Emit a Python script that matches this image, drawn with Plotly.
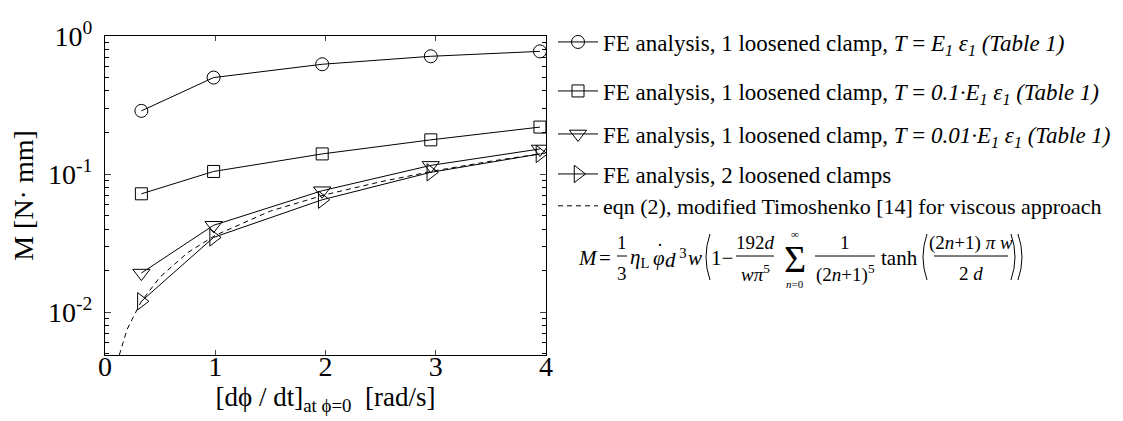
import plotly.graph_objects as go

# angular velocity at phi = 0 [rad/s]
x_fe = [0.33, 0.985, 1.97, 2.955, 3.945]

# moment M [N mm] for the FE runs
m_full = [0.287, 0.50, 0.624, 0.713, 0.774]
m_tenth = [0.072, 0.1045, 0.140, 0.177, 0.219]
m_hundredth = [0.0192, 0.0426, 0.0758, 0.1156, 0.152]
m_two_clamps = [0.0120, 0.0348, 0.0652, 0.103, 0.140]

# eqn (2), modified Timoshenko
x_eqn = [0.13, 0.2, 0.33, 0.5, 0.75, 1.0, 1.5, 2.0, 2.5, 3.0, 3.5, 4.0]
m_eqn = [0.0049, 0.0075, 0.0120, 0.018, 0.027, 0.036, 0.054, 0.071, 0.088, 0.106, 0.124, 0.142]

y_tickvals = [0.01, 0.1, 1]
y_ticktext = ["10<sup>-2</sup>", "10<sup>-1</sup>", "10<sup>0</sup>"]
y_minor = [0.005, 0.006, 0.007, 0.008, 0.009] + [k / 100 for k in range(2, 10)] + [k / 10 for k in range(2, 10)]

labels = [
    "FE analysis, 1 loosened clamp, <i>T</i> = <i>E<sub>1</sub> ε<sub>1</sub> (Table 1)</i>",
    "FE analysis, 1 loosened clamp, <i>T</i> = <i>0.1·E<sub>1</sub> ε<sub>1</sub> (Table 1)</i>",
    "FE analysis, 1 loosened clamp, <i>T</i> = <i>0.01·E<sub>1</sub> ε<sub>1</sub> (Table 1)</i>",
    "FE analysis, 2 loosened clamps",
    "eqn (2), modified Timoshenko [14] for viscous approach",
]

W, H = 1123, 421
L, R, T, B = 97, 585, 28, 74
PW, PH = W - L - R, H - T - B
FONT = "'Liberation Serif', 'Times New Roman', Times, serif"


def px(x):
    return (x - L) / PW


def py(y):
    return (H - B - y) / PH


fig = go.Figure()

series = [
    (m_full, "circle-open", 13),
    (m_tenth, "square-open", 12),
    (m_hundredth, "triangle-down-open", 15),
    (m_two_clamps, "triangle-right-open", 15),
]
for i, (m, sym, sz) in enumerate(series):
    fig.add_trace(go.Scatter(
        x=x_fe, y=m, mode="lines+markers", name=labels[i],
        line=dict(color="black", width=1),
        marker=dict(symbol=sym, size=sz, color="black", line=dict(width=1)),
        legend="legend" if i == 0 else "legend%d" % (i + 1),
    ))

fig.add_trace(go.Scatter(
    x=x_eqn, y=m_eqn, mode="lines", name=labels[4],
    line=dict(color="black", width=1, dash="5px,4px"),
    legend="legend5",
))

# one legend box per row so the rows sit where they do in the figure
rows = [34, 83, 126, 166, 198]
row_font = [23, 23, 23, 23, 22]
legends = {}
for i, r in enumerate(rows):
    key = "legend" if i == 0 else "legend%d" % (i + 1)
    legends[key] = dict(x=px(545), y=py(r), xanchor="left", yanchor="middle",
                        bgcolor="rgba(0,0,0,0)", itemwidth=40,
                        font=dict(family=FONT, size=row_font[i], color="black"))

fig.update_layout(
    width=W, height=H,
    margin=dict(l=L, r=R, t=T, b=B, autoexpand=False),
    plot_bgcolor="white", paper_bgcolor="white",
    font=dict(family=FONT, size=20, color="black"),
    showlegend=True,
    **legends,
)

fig.update_xaxes(
    range=[0, 4], tickvals=[0, 1, 2, 3, 4], ticks="inside", ticklen=5,
    ticklabelstandoff=-14,
    showline=True, linecolor="black", linewidth=1, mirror="allticks",
    showgrid=False, zeroline=False,
    tickfont=dict(family=FONT, size=28),
    title=dict(text="[dϕ / dt]<sub>at ϕ=0</sub>  [rad/s]", font=dict(family=FONT, size=27), standoff=6),
)
fig.update_yaxes(
    type="log", range=[-2.31, 0], tickvals=y_tickvals, ticktext=y_ticktext,
    ticks="inside", ticklen=6, ticklabelstandoff=6,
    minor=dict(tickvals=y_minor, ticks="inside", ticklen=4, tickcolor="black", showgrid=False),
    showline=True, linecolor="black", linewidth=1, mirror="allticks",
    showgrid=False, zeroline=False,
    tickfont=dict(family=FONT, size=28),
    title=dict(text="M [N· mm]", font=dict(family=FONT, size=28), standoff=12),
)

# eqn (2) written out under the legend
Ym = 250
Yn, Yd = Ym - 15, Ym + 15
pieces = [
    ("<i>M</i>", 580, Ym, 21),
    ("=", 597, Ym, 21),
    ("1", 614, Yn, 19),
    ("3", 614, Yd, 19),
    ("<i>η</i><sub>L</sub>", 631, Ym, 21),
    ("<i>φ</i>", 651, Ym, 21),
    ("·", 652, Ym - 13, 18),
    ("<i>d</i><sup> 3</sup>", 668, Ym, 21),
    ("<i>w</i>", 687, Ym, 21),
    ("1−", 714, Ym, 21),
    ("192<i>d</i>", 747, Yn, 19),
    ("<i>wπ</i><sup>5</sup>", 747, Yd, 19),
    ("Σ", 787, Ym + 1, 38),
    ("∞", 787, Ym - 24, 11),
    ("<i>n</i>=0", 787, Ym + 26, 11),
    ("1", 837, Yn, 19),
    ("(2<i>n</i>+1)<sup>5</sup>", 837, Yd, 19),
    ("tanh", 891, Ym, 21),
    ("(2<i>n</i>+1) <i>π w</i>", 963, Yn, 19),
    ("2 <i>d</i>", 963, Yd, 19),
]
for text, xc, yc, size in pieces:
    fig.add_annotation(
        x=px(xc), y=py(yc), xref="paper", yref="paper", text=text, showarrow=False,
        xanchor="center", yanchor="middle", font=dict(family=FONT, size=size, color="black"),
    )

bars = [(609, 619), (728, 766), (807, 867), (926, 1000)]
for x0, x1 in bars:
    fig.add_shape(type="line", xref="paper", yref="paper",
                  x0=px(x0), x1=px(x1), y0=py(Ym - 2), y1=py(Ym - 2),
                  line=dict(color="black", width=1))

# tall thin brackets around the sums (left ones open right, right ones open left)
parens = [(699, 1), (916, 1), (1006, -1), (1013, -1)]
for xp, side in parens:
    top, bot = Ym - 24, Ym + 22
    tip = xp + 3 * side
    ctrl = xp - 5 * side
    path = "M %.5f,%.5f Q %.5f,%.5f %.5f,%.5f" % (px(tip), py(top), px(ctrl), py((top + bot) / 2), px(tip), py(bot))
    fig.add_shape(type="path", xref="paper", yref="paper", path=path,
                  line=dict(color="black", width=1))

fig.write_html("out.html")
